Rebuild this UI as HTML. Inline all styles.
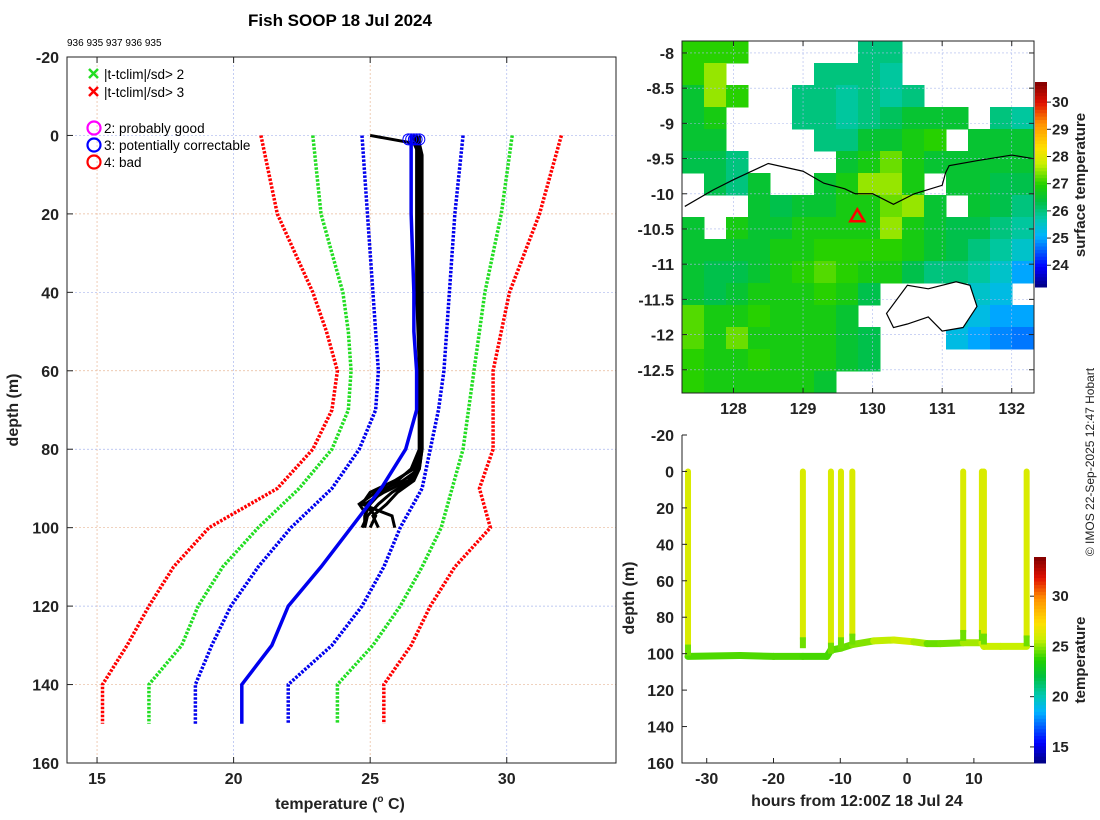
<!DOCTYPE html>
<html><head><meta charset="utf-8"><style>
body{margin:0;background:#fff;}
svg{display:block;font-family:"Liberation Sans","DejaVu Sans",sans-serif;}
.tk{font-weight:bold;font-size:16px;fill:#222;}
</style></head><body>
<svg id="s" width="1100" height="820" viewBox="0 0 1100 820">
<g id="gL"></g>
<g id="gM"></g>
<g id="gT"></g>
<text x="340" y="26" text-anchor="middle" font-size="17" font-weight="bold">Fish SOOP 18 Jul 2024</text>
<text x="67" y="46" font-size="10">936 935 937 936 935</text>
<text transform="translate(1094,462) rotate(-90)" text-anchor="middle" font-size="12" fill="#222">© IMOS 22-Sep-2025 12:47 Hobart</text>
</svg>
<script>
// ---------- profile panel data ----------
const climDepth=[0,20,40,50,60,70,80,90,100,110,120,130,140,150];
const redLo=[21.0,21.6,22.9,23.4,23.8,23.6,22.9,21.6,19.1,17.8,16.9,16.1,15.2,15.2];
const greenLo=[22.9,23.2,24.0,24.2,24.3,24.2,23.6,22.4,20.9,19.6,18.7,18.1,16.9,16.9];
const blueLo=[24.7,24.9,25.1,25.2,25.3,25.2,24.6,23.6,22.1,20.9,19.9,19.2,18.6,18.6];
const meanT=[26.5,26.5,26.6,26.6,26.7,26.7,26.3,25.4,24.3,23.2,22.0,21.4,20.3,20.3];
const blueHi=[28.4,28.1,27.9,27.8,27.7,27.5,27.2,26.9,26.1,25.5,24.7,23.6,22.0,22.0];
const greenHi=[30.2,29.8,29.2,29.0,28.8,28.6,28.4,28.0,27.6,26.9,26.1,25.1,23.8,23.8];
const redHi=[32.0,31.2,30.1,29.8,29.5,29.5,29.5,29.0,29.4,28.1,27.2,26.5,25.5,25.5];
const obsDepth=[0,2,5,20,40,60,80,85,88,91,94,97,100];
const obs1=[25.0,26.6,26.8,26.8,26.8,26.8,26.8,26.7,26.4,25.5,24.8,25.2,25.0];
const obs2=[26.5,26.7,26.8,26.8,26.8,26.9,26.9,26.8,26.2,25.2,24.6,24.9,24.7];
const obs3=[26.6,26.7,26.8,26.8,26.9,26.9,26.9,26.6,25.9,25.0,24.7,25.8,25.9];
const obs4=[26.8,26.8,26.8,26.8,26.8,26.8,26.8,26.7,26.5,25.8,25.3,24.9,24.8];
const obs5=[26.6,26.7,26.7,26.7,26.7,26.8,26.8,26.5,26.0,25.4,25.0,24.8,24.8];
const obs6=[26.7,26.8,26.9,26.9,26.9,26.9,26.9,26.8,26.6,26.0,25.6,25.1,25.3];
const surfT=[26.4,26.5,26.6,26.7,26.8];
const xTicksL=[15,20,25,30];
const yTicks=[-20,0,20,40,60,80,100,120,140,160];
// ---------- map data ----------
const lonTicks=[128,129,130,131,132];
const latTicks=[-8,-8.5,-9,-9.5,-10,-10.5,-11,-11.5,-12,-12.5];
const n=null;
const sstGrid=[
[27,27,27,n,n,n,n,n,26,26,n,n,n,n,n,n],
[27,27.5,n,n,n,n,26,26,26,25.8,n,n,n,n,n,n],
[26.5,27.5,27,n,n,26,26,25.8,26,25.8,26,n,n,n,n,n],
[26.5,26.8,n,n,n,26,26,25.8,26,26.2,26.5,26.5,26.5,n,26,25.8],
[26.5,26.5,n,n,n,n,26,26,26.5,26.5,26.8,27,n,26.5,26.5,26.5],
[26.3,26.3,26,n,n,n,n,26.5,26.8,27.3,26.8,26.5,26.5,26.5,26.5,26.5],
[n,26.3,26,26.5,n,n,26.5,26.8,27.5,27.5,26.8,n,26.5,26.5,26.3,26.3],
[n,n,n,26.5,26.3,26.5,26.5,26.8,26.8,27.3,27.5,26.5,n,26.5,26.3,26],
[26.5,n,26.8,26.5,26.5,26.8,26.8,26.8,26.8,27.5,26.8,26.5,26.3,26.3,26,25.8],
[26.5,26.5,26.5,26.5,26.8,26.8,27,27,27,27,26.8,26.5,26.3,26,25.8,25.5],
[26.5,26.3,26.3,26.5,26.8,27,27.2,27,26.8,26.8,26.3,26,26,25.8,25.5,25],
[26.5,26.3,26.5,26.8,26.8,26.8,27,26.8,26.3,n,n,n,n,25.5,25.3,n],
[27.2,26.8,26.8,27,26.8,26.8,26.8,26.5,n,n,n,n,25.5,25.3,25,25],
[27.2,26.8,27.3,26.8,26.8,26.8,26.8,26.5,26.3,n,n,n,25.3,25,24.8,24.7],
[27,26.8,26.8,27,26.8,26.8,26.8,26.5,26.3,n,n,n,n,n,n,n],
[27,26.8,26.8,26.8,26.8,26.8,26.5,n,n,n,n,n,n,n,n,n]];
const coastLon=[127.3,127.7,128.0,128.5,129.0,129.3,129.6,129.75,130.0,130.3,130.6,131.0,131.05,131.1,131.5,132.0,132.3];
const coastLat=[-10.18,-9.95,-9.8,-9.57,-9.68,-9.85,-9.93,-10.0,-10.0,-10.15,-10.0,-9.88,-9.7,-9.6,-9.53,-9.45,-9.5];
const islandLon=[130.2,130.5,130.8,131.2,131.4,131.5,131.3,131.0,130.8,130.5,130.3,130.2];
const islandLat=[-11.7,-11.3,-11.35,-11.25,-11.3,-11.6,-11.9,-11.95,-11.75,-11.85,-11.9,-11.7];
const shipLon=129.78, shipLat=-10.32;
const sstCbTicks=[24,25,26,27,28,29,30];
// ---------- time-depth data ----------
const castHours=[-32.8,-15.6,-11.4,-9.9,-8.2,8.4,11.2,11.5,17.9];
const castBottom=[101,97,100,97,95,93,93,95,96];
const castTemp=[26.2,26.2,26.2,26.2,26.2,26.2,26.2,26.2,26.2];
const bottomHours=[-32.8,-25,-20,-15.6,-12,-11.4,-9.9,-8.2,-5,-2,1,3,5,8.4,11.2,11.5,14,17.9];
const bottomDepth=[101.5,101,101.5,101.5,101.5,98,97,95,93,92.5,93.5,94.5,94.5,94,94,96,96,96];
const bottomTemp=[24.2,24.2,24.2,24.2,24.0,24.2,24.5,24.5,25.2,26,25.8,24.8,24.3,25,25.5,26,25.6,25.8];
const hourTicks=[-30,-20,-10,0,10];
const tempCbTicks=[15,20,25,30];

const NS='http://www.w3.org/2000/svg';
function E(p,tag,at,txt){const e=document.createElementNS(NS,tag);for(const k in at)e.setAttribute(k,at[k]);if(txt!==undefined)e.textContent=txt;p.appendChild(e);return e;}
const stops=[[0,[0,0,128]],[0.1,[0,0,255]],[0.25,[0,180,255]],[0.33,[0,200,176]],[0.42,[0,192,64]],[0.5,[32,208,0]],[0.6,[200,240,0]],[0.68,[255,224,0]],[0.8,[255,144,0]],[0.9,[224,16,0]],[1,[128,0,0]]];
function cmap(f){f=Math.max(0,Math.min(1,f));for(let i=1;i<stops.length;i++){if(f<=stops[i][0]){const a=stops[i-1],b=stops[i],t=(f-a[0])/(b[0]-a[0]);return 'rgb('+a[1].map((v,j)=>Math.round(v+(b[1][j]-v)*t)).join(',')+')';}}return 'rgb(128,0,0)';}

// ===== Left panel =====
const gL=document.getElementById('gL');
const L={x0:67,x1:616,y0:57,y1:763,t0:13.9,t1:34.0,d0:-20,d1:160};
const xL=t=>L.x0+(t-L.t0)/(L.t1-L.t0)*(L.x1-L.x0);
const yL=d=>L.y0+(d-L.d0)/(L.d1-L.d0)*(L.y1-L.y0);
xTicksL.forEach((t,i)=>{const l=E(gL,'line',{x1:xL(t),x2:xL(t),y1:L.y0,y2:L.y1,stroke:i%2?'#aab8ee':'#e8b898','stroke-dasharray':'2,2','stroke-width':0.7});});
yTicks.forEach((d,i)=>{if(d<=L.d0||d>=L.d1)return;const l=E(gL,'line',{x1:L.x0,x2:L.x1,y1:yL(d),y2:yL(d),stroke:i%2?'#aab8ee':'#e8b898','stroke-dasharray':'2,2','stroke-width':0.7});});
const climSeries=[[redLo,'#ff0000'],[greenLo,'#22dd22'],[blueLo,'#0000ee'],[blueHi,'#0000ee'],[greenHi,'#22dd22'],[redHi,'#ff0000']];
climSeries.forEach(([arr,c])=>{const p=E(gL,'polyline',{points:arr.map((t,i)=>xL(t)+','+yL(climDepth[i])).join(' '),fill:'none',stroke:c,'stroke-width':3.5,'stroke-dasharray':'2.5,1.5'});});
[obs1,obs2,obs3,obs4,obs5,obs6].forEach(arr=>{const p=E(gL,'polyline',{points:arr.map((t,i)=>xL(t)+','+yL(obsDepth[i])).join(' '),fill:'none',stroke:'#000','stroke-width':3});});
{const p=E(gL,'polyline',{points:meanT.map((t,i)=>xL(t)+','+yL(climDepth[i])).join(' '),fill:'none',stroke:'#0000ee','stroke-width':3.5});}
surfT.forEach(t=>{const c=E(gL,'circle',{cx:xL(t),cy:yL(1),r:5.5,fill:'none',stroke:'#0000ff','stroke-width':1});});
E(gL,'rect',{x:L.x0,y:L.y0,width:L.x1-L.x0,height:L.y1-L.y0,fill:'none',stroke:'#222','stroke-width':1});
xTicksL.forEach(t=>{const x=xL(t);E(gL,'line',{x1:x,x2:x,y1:L.y1,y2:L.y1-6,stroke:'#222'});E(gL,'line',{x1:x,x2:x,y1:L.y0,y2:L.y0+6,stroke:'#222'});const tx=E(gL,'text',{x:x,y:L.y1+21,'text-anchor':'middle',class:'tk'},String(t));});
yTicks.forEach(d=>{const y=yL(d);E(gL,'line',{x1:L.x0,x2:L.x0+6,y1:y,y2:y,stroke:'#222'});const tx=E(gL,'text',{x:L.x0-8,y:y+6,'text-anchor':'end',class:'tk'},String(d));});
{const t=E(gL,'text',{x:340,y:809,'text-anchor':'middle',class:'tk','font-size':16});t.innerHTML='temperature (<tspan font-size="10" dy="-7">o</tspan><tspan dy="7"> C)</tspan>';}
{const t=E(gL,'text',{transform:'translate(18,410) rotate(-90)','text-anchor':'middle',class:'tk'},'depth (m)');}
// legend
const lg=E(gL,'g',{});
[[74,'#22dd22','|t-tclim|/sd> 2'],[92,'#ff0000','|t-tclim|/sd> 3']].forEach(([y,c,s])=>{E(lg,'path',{d:`M89 ${y-5}l9 9M98 ${y-5}l-9 9`,stroke:c,'stroke-width':2.5});const t=E(lg,'text',{x:104,y:y+5,'font-size':13.5},s);});
[[128,'#ff00ff','2: probably good'],[145,'#0000ff','3: potentially correctable'],[162,'#ff0000','4: bad']].forEach(([y,c,s])=>{E(lg,'circle',{cx:94,cy:y,r:6.5,fill:'none',stroke:c,'stroke-width':2.2});const t=E(lg,'text',{x:104,y:y+5,'font-size':13.5},s);});

// ===== Map panel =====
const gM=document.getElementById('gM');
const M={x0:682,x1:1034,y0:41,y1:393,lon0:127.26,lon1:132.32,lat0:-7.83,lat1:-12.83};
const xM=l=>M.x0+(l-M.lon0)/(M.lon1-M.lon0)*(M.x1-M.x0);
const yM=l=>M.y0+(l-M.lat0)/(M.lat1-M.lat0)*(M.y1-M.y0);
const SST0=23.2,SST1=30.74;
const cw=(M.x1-M.x0)/16,ch=(M.y1-M.y0)/16;
sstGrid.forEach((row,r)=>row.forEach((v,c)=>{if(v===null)return;const e=E(gM,'rect',{x:M.x0+c*cw,y:M.y0+r*ch,width:cw+0.5,height:ch+0.5,fill:cmap((v-SST0)/(SST1-SST0))});}));
lonTicks.forEach(l=>{E(gM,'line',{x1:xM(l),x2:xM(l),y1:M.y0,y2:M.y1,stroke:'#aab8ee','stroke-dasharray':'2,2','stroke-width':0.6});});
latTicks.forEach(l=>{E(gM,'line',{x1:M.x0,x2:M.x1,y1:yM(l),y2:yM(l),stroke:'#aab8ee','stroke-dasharray':'2,2','stroke-width':0.6});});
{const p=E(gM,'polyline',{points:coastLon.map((l,i)=>xM(l)+','+yM(coastLat[i])).join(' '),fill:'none',stroke:'#000','stroke-width':1.2});}
{const p=E(gM,'polygon',{points:islandLon.map((l,i)=>xM(l)+','+yM(islandLat[i])).join(' '),fill:'#fff',stroke:'#000','stroke-width':1.2});}
{const sx=xM(shipLon),sy=yM(shipLat);const p=E(gM,'polygon',{points:`${sx},${sy-7} ${sx-7},${sy+5} ${sx+7},${sy+5}`,fill:'none',stroke:'#ff0000','stroke-width':2.5});}
E(gM,'rect',{x:M.x0,y:M.y0,width:M.x1-M.x0,height:M.y1-M.y0,fill:'none',stroke:'#222'});
lonTicks.forEach(l=>{const x=xM(l);E(gM,'line',{x1:x,x2:x,y1:M.y1,y2:M.y1-5,stroke:'#222'});E(gM,'line',{x1:x,x2:x,y1:M.y0,y2:M.y0+5,stroke:'#222'});const t=E(gM,'text',{x:x,y:M.y1+21,'text-anchor':'middle',class:'tk'},String(l));});
latTicks.forEach(l=>{const y=yM(l);E(gM,'line',{x1:M.x0,x2:M.x0+5,y1:y,y2:y,stroke:'#222'});E(gM,'line',{x1:M.x1,x2:M.x1-5,y1:y,y2:y,stroke:'#222'});const t=E(gM,'text',{x:M.x0-8,y:y+6,'text-anchor':'end',class:'tk'},String(l));});
// sst colorbar
const CB1={x:1035,w:12,y0:82,y1:287};
const ycb1=v=>CB1.y1-(v-SST0)/(SST1-SST0)*(CB1.y1-CB1.y0);
for(let i=0;i<60;i++){const f0=i/60;E(gM,'rect',{x:CB1.x,y:CB1.y1-(i+1)/60*(CB1.y1-CB1.y0),width:CB1.w,height:(CB1.y1-CB1.y0)/60+0.5,fill:cmap(f0+0.008)});}
sstCbTicks.forEach(v=>{const y=ycb1(v);E(gM,'line',{x1:CB1.x+CB1.w,x2:CB1.x+CB1.w+4,y1:y,y2:y,stroke:'#222'});const t=E(gM,'text',{x:CB1.x+17,y:y+5,'font-size':15,'font-weight':'bold',fill:'#222'},String(v));});
{const t=E(gM,'text',{transform:'translate(1085,185) rotate(-90)','text-anchor':'middle','font-size':15,'font-weight':'bold',fill:'#222'},'surface temperature');}

// ===== Time-depth panel =====
const gT=document.getElementById('gT');
const T={x0:682,x1:1034,y0:435,y1:763,h0:-33.7,h1:19.0,d0:-20,d1:160};
const xT=h=>T.x0+(h-T.h0)/(T.h1-T.h0)*(T.x1-T.x0);
const yT=d=>T.y0+(d-T.d0)/(T.d1-T.d0)*(T.y1-T.y0);
const TT0=13.4,TT1=33.9;
const tc=v=>cmap((v-TT0)/(TT1-TT0));
for(let i=1;i<bottomHours.length;i++){const l=E(gT,'line',{x1:xT(bottomHours[i-1]),y1:yT(bottomDepth[i-1]),x2:xT(bottomHours[i]),y2:yT(bottomDepth[i]),stroke:tc((bottomTemp[i]+bottomTemp[i-1])/2),'stroke-width':7,'stroke-linecap':'round'});}
castHours.forEach((h,i)=>{const l=E(gT,'line',{x1:xT(h),x2:xT(h),y1:yT(0),y2:yT(castBottom[i]-5),stroke:tc(castTemp[i]),'stroke-width':6,'stroke-linecap':'round'});const l2=E(gT,'line',{x1:xT(h),x2:xT(h),y1:yT(castBottom[i]-6),y2:yT(castBottom[i]),stroke:tc(24.6),'stroke-width':6});});
E(gT,'path',{d:`M${T.x0} ${T.y0}V${T.y1}H${T.x1}`,fill:'none',stroke:'#222'});
hourTicks.forEach(h=>{const x=xT(h);E(gT,'line',{x1:x,x2:x,y1:T.y1,y2:T.y1-5,stroke:'#222'});const t=E(gT,'text',{x:x,y:T.y1+21,'text-anchor':'middle',class:'tk'},String(h));});
yTicks.forEach(d=>{const y=yT(d);E(gT,'line',{x1:T.x0,x2:T.x0+5,y1:y,y2:y,stroke:'#222'});const t=E(gT,'text',{x:T.x0-8,y:y+6,'text-anchor':'end',class:'tk'},String(d));});
{const t=E(gT,'text',{x:857,y:806,'text-anchor':'middle',class:'tk'},'hours from 12:00Z 18 Jul 24');}
{const t=E(gT,'text',{transform:'translate(634,598) rotate(-90)','text-anchor':'middle',class:'tk'},'depth (m)');}
const CB2={x:1034,w:12,y0:557,y1:763};
const ycb2=v=>CB2.y1-(v-TT0)/(TT1-TT0)*(CB2.y1-CB2.y0);
for(let i=0;i<60;i++){E(gT,'rect',{x:CB2.x,y:CB2.y1-(i+1)/60*(CB2.y1-CB2.y0),width:CB2.w,height:(CB2.y1-CB2.y0)/60+0.5,fill:cmap(i/60+0.008)});}
tempCbTicks.forEach(v=>{const y=ycb2(v);E(gT,'line',{x1:CB2.x-4,x2:CB2.x,y1:y,y2:y,stroke:'#222'});const t=E(gT,'text',{x:CB2.x+18,y:y+5,'font-size':15,'font-weight':'bold',fill:'#222'},String(v));});
{const t=E(gT,'text',{transform:'translate(1085,660) rotate(-90)','text-anchor':'middle','font-size':15,'font-weight':'bold',fill:'#222'},'temperature');}
</script>
</body></html>
